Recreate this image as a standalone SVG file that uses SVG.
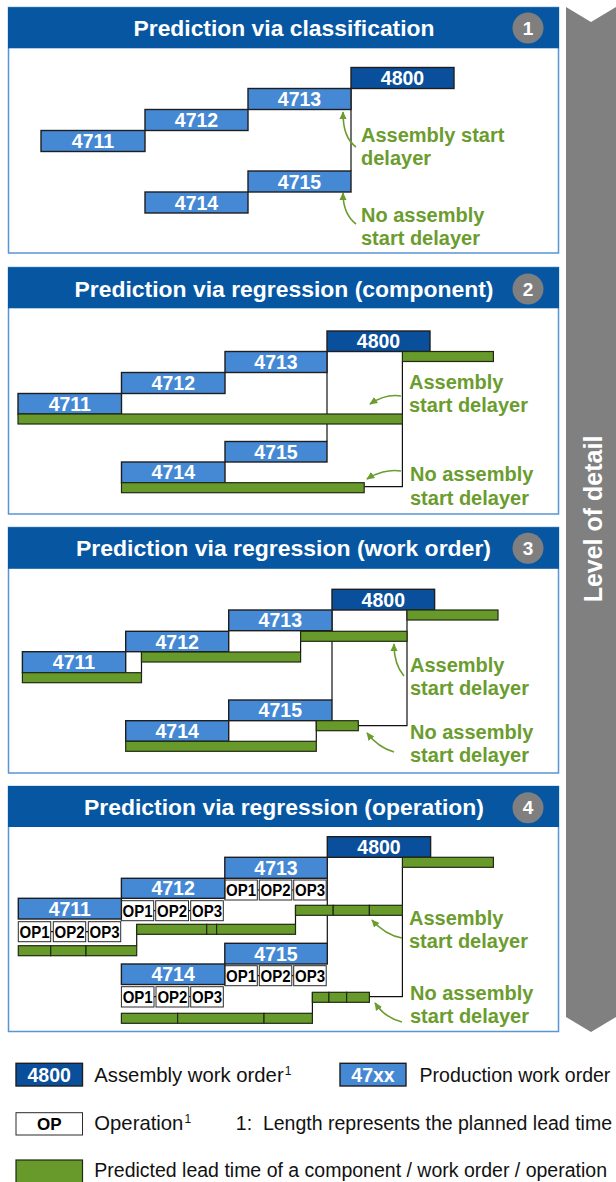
<svg xmlns="http://www.w3.org/2000/svg" width="616" height="1182" viewBox="0 0 616 1182">
  <style>
    .sans { font-family: "Liberation Sans", Arial, sans-serif; }
    .hdr { fill: #0656a2; }
    .body { fill: #ffffff; stroke: #5a95d3; stroke-width: 1.5; }
    .ttl { font-family: "Liberation Sans", Arial, sans-serif; font-weight: bold; font-size: 22px; fill: #ffffff; text-anchor: middle; }
    .numc { fill: #7f7f7f; }
    .numt { font-family: "Liberation Sans", Arial, sans-serif; font-weight: bold; font-size: 19px; fill: #ffffff; text-anchor: middle; }
    .wo { fill: #4589d5; stroke: #1e1e1e; stroke-width: 1.4; }
    .asm { fill: #0a4f9b; stroke: #1e1e1e; stroke-width: 1.4; }
    .lbl { font-family: "Liberation Sans", Arial, sans-serif; font-weight: bold; font-size: 19.5px; fill: #ffffff; text-anchor: middle; }
    .op { fill: #ffffff; stroke: #2a2a2a; stroke-width: 1; }
    .opt { font-family: "Liberation Sans", Arial, sans-serif; font-weight: bold; font-size: 17px; fill: #000000; text-anchor: middle; }
    .bar { fill: #679a2b; stroke: #1f2a12; stroke-width: 1.2; }
    .con { fill: none; stroke: #111111; stroke-width: 1.2; }
    .arr { fill: none; stroke: #6b9c2e; stroke-width: 1.6; marker-end: url(#ah); }
    .gl { font-family: "Liberation Sans", Arial, sans-serif; font-weight: bold; font-size: 20px; fill: #6b9c2e; }
    .leg { font-family: "Liberation Sans", Arial, sans-serif; font-size: 20.3px; fill: #111111; }
    .leg-s { font-family: "Liberation Sans", Arial, sans-serif; font-size: 19.5px; fill: #111111; }
  </style>
  <defs>
    <marker id="ah" viewBox="0 0 10 10" refX="9" refY="5" markerWidth="8" markerHeight="8" markerUnits="userSpaceOnUse" orient="auto">
      <path d="M0,0.5 L10,5 L0,9.5 z" fill="#6b9c2e"/>
    </marker>
  </defs>

  <!-- level-of-detail chevron -->
  <g id="detail-arrow">
    <polygon points="566,7 591,22 616,7 616,1017 591,1032 566,1017" fill="#808080"/>
    <text class="sans" transform="translate(601.5,519) rotate(-90)" text-anchor="middle" font-weight="bold" font-size="25" fill="#ffffff">Level of detail</text>
  </g>

  <!-- panel frames -->
  <g id="panel-1">
    <rect class="body" x="8.5" y="7.5" width="550" height="245.5"/>
    <rect class="hdr" x="8" y="7.3" width="551" height="41"/>
    <text class="ttl" x="284" y="36" textLength="301" lengthAdjust="spacingAndGlyphs">Prediction via classification</text>
    <circle class="numc" cx="528" cy="28" r="15.5"/>
    <text class="numt" x="528" y="34.7">1</text>
  </g>
  <g id="panel-2">
    <rect class="body" x="8.5" y="267.5" width="550" height="246.5"/>
    <rect class="hdr" x="8" y="267.3" width="551" height="41"/>
    <text class="ttl" x="284" y="296.5" textLength="419" lengthAdjust="spacingAndGlyphs">Prediction via regression (component)</text>
    <circle class="numc" cx="528" cy="289" r="15.5"/>
    <text class="numt" x="528" y="295.7">2</text>
  </g>
  <g id="panel-3">
    <rect class="body" x="8.5" y="527.5" width="550" height="245.5"/>
    <rect class="hdr" x="8" y="527.3" width="551" height="41.5"/>
    <text class="ttl" x="283.5" y="556" textLength="415" lengthAdjust="spacingAndGlyphs">Prediction via regression (work order)</text>
    <circle class="numc" cx="528" cy="548.3" r="15.5"/>
    <text class="numt" x="528" y="555">3</text>
  </g>
  <g id="panel-4">
    <rect class="body" x="8.5" y="786.5" width="550" height="245"/>
    <rect class="hdr" x="8" y="786" width="551" height="41"/>
    <text class="ttl" x="284" y="815" textLength="400" lengthAdjust="spacingAndGlyphs">Prediction via regression (operation)</text>
    <circle class="numc" cx="528" cy="807.7" r="15.5"/>
    <text class="numt" x="528" y="814.4">4</text>
  </g>

  <!-- connectors: lead-time chains and callout arrows -->
  <g id="connectors">
    <!-- panel 1 -->
    <path class="con" d="M351,88 V171"/>
    <path class="arr" d="M356,147 C347,140 343,130 343,112"/>
    <path class="arr" d="M356,224 C347,217 343,207 343,193"/>
    <!-- panel 2 -->
    <path class="con" d="M327,351 V441.5"/>
    <path class="con" d="M402.4,361.5 V486.7 H364.2"/>
    <path class="arr" d="M401,396 C389,394 379,398 370,404"/>
    <path class="arr" d="M401,471 C389,469 376,473 367,479"/>
    <!-- panel 3 -->
    <path class="con" d="M332,610 V700"/>
    <path class="con" d="M407,610 V725.7 H358.3"/>
    <path class="con" d="M141.5,652 V672.7"/>
    <path class="con" d="M300.6,631.3 V652"/>
    <path class="con" d="M316.3,720.7 V741.3"/>
    <path class="arr" d="M404,676 C397,668 394,657 394,644"/>
    <path class="arr" d="M394,752 C383,749 374,742 367,733"/>
    <!-- panel 4 -->
    <path class="con" d="M327.3,857 V943.3"/>
    <path class="con" d="M402.4,867.3 V996.7 H369.4"/>
    <path class="con" d="M136.7,924.3 V945.7"/>
    <path class="con" d="M295.5,905.3 V924.3"/>
    <path class="con" d="M312.4,992.3 V1013.3"/>
    <path class="con" d="M50.7,931.7 H53.3 M85.7,931.7 H88.3"/>
    <path class="con" d="M153.7,910.7 H155.7 M188.5,910.7 H190.7"/>
    <path class="con" d="M257.3,890 H259.3 M291.8,890 H293.7"/>
    <path class="con" d="M257.3,975.7 H259.3 M291.8,975.7 H293.7"/>
    <path class="con" d="M154,996.7 H156 M188.8,996.7 H190.7"/>
    <path class="arr" d="M402,938 C390,936 380,929 372,920"/>
    <path class="arr" d="M402,1022 C390,1019 381,1012 375,1003"/>
  </g>

  <!-- panel 1 work orders -->
  <g id="p1-4800"><rect class="asm" x="351" y="67.5" width="103" height="21"/><text class="lbl" x="402.5" y="85">4800</text></g>
  <g id="p1-4713"><rect class="wo" x="248" y="88.5" width="103" height="21"/><text class="lbl" x="299.5" y="106">4713</text></g>
  <g id="p1-4712"><rect class="wo" x="145" y="109.5" width="103" height="21"/><text class="lbl" x="196.5" y="127">4712</text></g>
  <g id="p1-4711"><rect class="wo" x="41" y="130.5" width="104" height="21"/><text class="lbl" x="93" y="148">4711</text></g>
  <g id="p1-4715"><rect class="wo" x="248" y="171" width="103" height="21"/><text class="lbl" x="299.5" y="188.5">4715</text></g>
  <g id="p1-4714"><rect class="wo" x="145" y="192" width="103" height="21"/><text class="lbl" x="196.5" y="209.5">4714</text></g>
  <g id="p1-labels">
    <text class="gl" x="361" y="141.5">Assembly start</text>
    <text class="gl" x="361" y="164.5">delayer</text>
    <text class="gl" x="361" y="221.5">No assembly</text>
    <text class="gl" x="361" y="244.5">start delayer</text>
  </g>

  <!-- panel 2 work orders -->
  <g id="p2-4800"><rect class="asm" x="327" y="331" width="103" height="20.5"/><text class="lbl" x="378.5" y="348.2">4800</text></g>
  <g id="p2-bar-4800"><rect class="bar" x="402.4" y="351.5" width="91" height="10"/></g>
  <g id="p2-4713"><rect class="wo" x="225" y="351.5" width="102" height="21"/><text class="lbl" x="276" y="369">4713</text></g>
  <g id="p2-4712"><rect class="wo" x="121.5" y="372.5" width="103.5" height="21"/><text class="lbl" x="173.3" y="390">4712</text></g>
  <g id="p2-4711"><rect class="wo" x="18" y="393.5" width="103.5" height="20.5"/><text class="lbl" x="69.8" y="410.7">4711</text></g>
  <g id="p2-bar-upper"><rect class="bar" x="18" y="414" width="384.4" height="10"/></g>
  <g id="p2-4715"><rect class="wo" x="225" y="441.5" width="102" height="20.5"/><text class="lbl" x="276" y="458.7">4715</text></g>
  <g id="p2-4714"><rect class="wo" x="121.5" y="462" width="103.5" height="20.7"/><text class="lbl" x="173.3" y="479.2">4714</text></g>
  <g id="p2-bar-lower"><rect class="bar" x="121.5" y="482.7" width="242.7" height="10"/></g>
  <g id="p2-labels">
    <text class="gl" x="409" y="388.5">Assembly</text>
    <text class="gl" x="409" y="412">start delayer</text>
    <text class="gl" x="410" y="481">No assembly</text>
    <text class="gl" x="410" y="504.5">start delayer</text>
  </g>

  <!-- panel 3 work orders -->
  <g id="p3-4800"><rect class="asm" x="332" y="589.3" width="102.6" height="20.7"/><text class="lbl" x="383.3" y="606.7">4800</text></g>
  <g id="p3-bar-4800"><rect class="bar" x="407" y="610" width="91" height="10"/></g>
  <g id="p3-4713"><rect class="wo" x="228.7" y="610" width="103.3" height="20.7"/><text class="lbl" x="280.3" y="627.4">4713</text></g>
  <g id="p3-bar-4713"><rect class="bar" x="300.6" y="631.3" width="106.4" height="10"/></g>
  <g id="p3-4712"><rect class="wo" x="125.7" y="631.3" width="103" height="20.4"/><text class="lbl" x="177.2" y="648.5">4712</text></g>
  <g id="p3-bar-4712"><rect class="bar" x="141.5" y="652" width="159.1" height="10"/></g>
  <g id="p3-4711"><rect class="wo" x="22.4" y="651.7" width="103.3" height="21"/><text class="lbl" x="74" y="669.2">4711</text></g>
  <g id="p3-bar-4711"><rect class="bar" x="22.4" y="672.7" width="119.1" height="10"/></g>
  <g id="p3-4715"><rect class="wo" x="228.7" y="700" width="103.3" height="20.7"/><text class="lbl" x="280.3" y="717.4">4715</text></g>
  <g id="p3-4714"><rect class="wo" x="125.7" y="720.7" width="103" height="20.6"/><text class="lbl" x="177.2" y="738">4714</text></g>
  <g id="p3-bar-4715"><rect class="bar" x="316.3" y="720.7" width="42" height="10"/></g>
  <g id="p3-bar-4714"><rect class="bar" x="125.7" y="741.3" width="190.6" height="10"/></g>
  <g id="p3-labels">
    <text class="gl" x="410" y="671.5">Assembly</text>
    <text class="gl" x="410" y="695">start delayer</text>
    <text class="gl" x="410" y="738.5">No assembly</text>
    <text class="gl" x="410" y="762">start delayer</text>
  </g>

  <!-- panel 4 work orders with operations -->
  <g id="p4-4800"><rect class="asm" x="327.3" y="836.7" width="103.3" height="20.6"/><text class="lbl" x="379" y="854">4800</text></g>
  <g id="p4-bar-4800"><rect class="bar" x="402.4" y="857.3" width="91" height="10"/></g>
  <g id="p4-4713"><rect class="wo" x="224.8" y="857.3" width="102.5" height="21"/><text class="lbl" x="276" y="874.8">4713</text></g>
  <g id="p4-4713-ops">
    <rect class="op" x="224.8" y="880" width="32.5" height="20"/><text class="opt" x="241" y="896" textLength="30" lengthAdjust="spacingAndGlyphs">OP1</text>
    <rect class="op" x="259.3" y="880" width="32.5" height="20"/><text class="opt" x="275.5" y="896" textLength="30" lengthAdjust="spacingAndGlyphs">OP2</text>
    <rect class="op" x="293.7" y="880" width="32.5" height="20"/><text class="opt" x="310" y="896" textLength="30" lengthAdjust="spacingAndGlyphs">OP3</text>
  </g>
  <g id="p4-4712"><rect class="wo" x="121.4" y="878.3" width="103.4" height="20"/><text class="lbl" x="173.1" y="895.3">4712</text></g>
  <g id="p4-4712-ops">
    <rect class="op" x="121.2" y="900.7" width="32.5" height="20"/><text class="opt" x="137.5" y="916.7" textLength="30" lengthAdjust="spacingAndGlyphs">OP1</text>
    <rect class="op" x="155.7" y="900.7" width="32.8" height="20"/><text class="opt" x="172.1" y="916.7" textLength="30" lengthAdjust="spacingAndGlyphs">OP2</text>
    <rect class="op" x="190.7" y="900.7" width="32.6" height="20"/><text class="opt" x="207" y="916.7" textLength="30" lengthAdjust="spacingAndGlyphs">OP3</text>
  </g>
  <g id="p4-4711"><rect class="wo" x="18.3" y="898.3" width="103.1" height="20.7"/><text class="lbl" x="69.8" y="915.7">4711</text></g>
  <g id="p4-4711-ops">
    <rect class="op" x="18.3" y="921.7" width="32.4" height="20"/><text class="opt" x="34.5" y="937.7" textLength="30" lengthAdjust="spacingAndGlyphs">OP1</text>
    <rect class="op" x="53.3" y="921.7" width="32.4" height="20"/><text class="opt" x="69.5" y="937.7" textLength="30" lengthAdjust="spacingAndGlyphs">OP2</text>
    <rect class="op" x="88.3" y="921.7" width="32.4" height="20"/><text class="opt" x="104.5" y="937.7" textLength="30" lengthAdjust="spacingAndGlyphs">OP3</text>
  </g>
  <g id="p4-bar-4713">
    <rect class="bar" x="295.5" y="905.3" width="37.7" height="10"/>
    <rect class="bar" x="333.2" y="905.3" width="36.2" height="10"/>
    <rect class="bar" x="369.4" y="905.3" width="33" height="10"/>
  </g>
  <g id="p4-bar-4712">
    <rect class="bar" x="136.7" y="924.3" width="70" height="10"/>
    <rect class="bar" x="206.7" y="924.3" width="9.9" height="10"/>
    <rect class="bar" x="216.6" y="924.3" width="78.9" height="10"/>
  </g>
  <g id="p4-bar-4711">
    <rect class="bar" x="18.3" y="945.7" width="32.4" height="10"/>
    <rect class="bar" x="50.7" y="945.7" width="35.3" height="10"/>
    <rect class="bar" x="86" y="945.7" width="50.7" height="10"/>
  </g>
  <g id="p4-4715"><rect class="wo" x="224.8" y="943.3" width="102.5" height="20.7"/><text class="lbl" x="276" y="960.7">4715</text></g>
  <g id="p4-4715-ops">
    <rect class="op" x="224.8" y="965.7" width="32.5" height="20"/><text class="opt" x="241" y="981.7" textLength="30" lengthAdjust="spacingAndGlyphs">OP1</text>
    <rect class="op" x="259.3" y="965.7" width="32.5" height="20"/><text class="opt" x="275.5" y="981.7" textLength="30" lengthAdjust="spacingAndGlyphs">OP2</text>
    <rect class="op" x="293.7" y="965.7" width="32.5" height="20"/><text class="opt" x="310" y="981.7" textLength="30" lengthAdjust="spacingAndGlyphs">OP3</text>
  </g>
  <g id="p4-4714"><rect class="wo" x="121.4" y="964" width="103.4" height="20.5"/><text class="lbl" x="173.1" y="981.2">4714</text></g>
  <g id="p4-4714-ops">
    <rect class="op" x="121.4" y="986.7" width="32.6" height="20.3"/><text class="opt" x="137.7" y="1002.8" textLength="30" lengthAdjust="spacingAndGlyphs">OP1</text>
    <rect class="op" x="156" y="986.7" width="32.8" height="20.3"/><text class="opt" x="172.4" y="1002.8" textLength="30" lengthAdjust="spacingAndGlyphs">OP2</text>
    <rect class="op" x="190.7" y="986.7" width="32.6" height="20.3"/><text class="opt" x="207" y="1002.8" textLength="30" lengthAdjust="spacingAndGlyphs">OP3</text>
  </g>
  <g id="p4-bar-4715">
    <rect class="bar" x="312.4" y="992.3" width="16.5" height="10"/>
    <rect class="bar" x="328.9" y="992.3" width="17.7" height="10"/>
    <rect class="bar" x="346.6" y="992.3" width="22.8" height="10"/>
  </g>
  <g id="p4-bar-4714">
    <rect class="bar" x="121.4" y="1013.3" width="56.2" height="10"/>
    <rect class="bar" x="177.6" y="1013.3" width="86.4" height="10"/>
    <rect class="bar" x="264" y="1013.3" width="48.4" height="10"/>
  </g>
  <g id="p4-labels">
    <text class="gl" x="409" y="924.5">Assembly</text>
    <text class="gl" x="409" y="948">start delayer</text>
    <text class="gl" x="410" y="999.5">No assembly</text>
    <text class="gl" x="410" y="1023">start delayer</text>
  </g>

  <!-- legend -->
  <g id="legend">
    <rect class="asm" x="16" y="1063.3" width="66.5" height="22.7"/>
    <text class="lbl" x="49.2" y="1081.7">4800</text>
    <text class="leg" x="94.3" y="1081.7">Assembly work order<tspan font-size="12" dx="1" dy="-7">1</tspan></text>
    <rect class="wo" x="340" y="1063.3" width="66" height="22.7"/>
    <text class="lbl" x="373" y="1081.7">47xx</text>
    <text class="leg-s" x="419.6" y="1081.7">Production work order</text>
    <rect class="op" x="16" y="1112.7" width="66.5" height="22.3"/>
    <text class="opt" x="49.2" y="1130.3" font-size="18">OP</text>
    <text class="leg" x="94.3" y="1130">Operation<tspan font-size="12" dx="1" dy="-7">1</tspan></text>
    <text class="leg-s" x="235.8" y="1130" xml:space="preserve">1:  Length represents the planned lead time</text>
    <rect class="bar" x="16" y="1160" width="66.5" height="24"/>
    <text class="leg-s" x="94.3" y="1176.7">Predicted lead time of a component / work order / operation</text>
  </g>
</svg>
